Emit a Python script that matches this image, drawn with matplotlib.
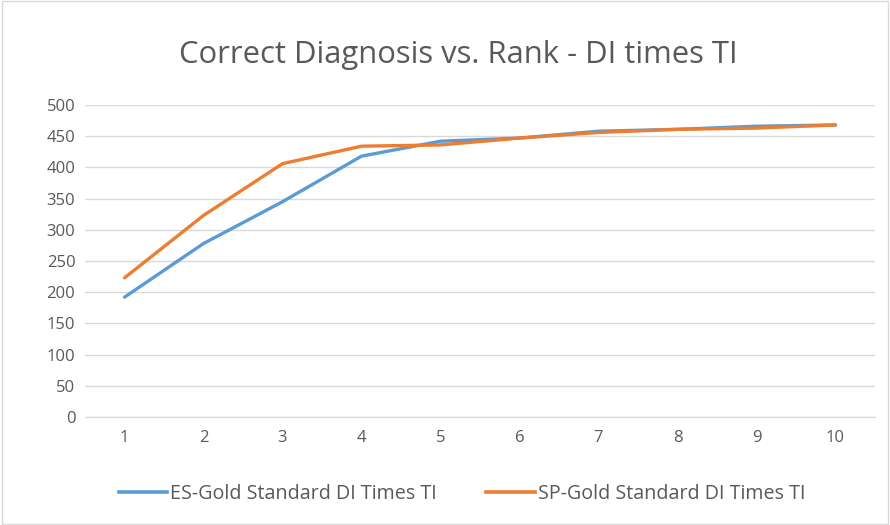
import matplotlib
matplotlib.use("Agg")
import matplotlib.pyplot as plt
from matplotlib.lines import Line2D
from matplotlib.patches import Rectangle

ranks = [1, 2, 3, 4, 5, 6, 7, 8, 9, 10]
es_values = [192, 278, 345, 418, 442, 447, 458, 461, 466, 468]
sp_values = [223, 323, 406, 434, 436, 447, 456, 461, 463, 468]
yticks = [0, 50, 100, 150, 200, 250, 300, 350, 400, 450, 500]
title = "Correct Diagnosis vs. Rank - DI times TI"
labels = ["ES-Gold Standard DI Times TI", "SP-Gold Standard DI Times TI"]

plt.rcParams['font.family'] = ['Open Sans', 'DejaVu Sans']
txt = '#595959'

fig = plt.figure(figsize=(8.9, 5.25), dpi=100)
fig.patches.append(Rectangle((0.002, 0.002), 0.996, 0.996, transform=fig.transFigure,
                             fill=False, edgecolor='#D9D9D9', linewidth=1))
ax = fig.add_axes([85/890, 1-417/525, 790/890, 312/525])

ax.plot(ranks, es_values, color='#5B9BD5', linewidth=2.4, solid_capstyle='round', zorder=3)
ax.plot(ranks, sp_values, color='#ED7D31', linewidth=2.4, solid_capstyle='round', zorder=3)

ax.set_xlim(0.5, 10.5)
ax.set_ylim(0, 500)
ax.set_yticks(yticks)
ax.set_xticks(ranks)
ax.grid(axis='y', color='#D9D9D9', linewidth=1)
ax.set_axisbelow(True)
for s in ['top', 'right', 'left']:
    ax.spines[s].set_visible(False)
ax.spines['bottom'].set_color('#D9D9D9')
ax.tick_params(axis='both', length=0, labelsize=12, colors=txt)
ax.tick_params(axis='y', pad=7)
ax.tick_params(axis='x', pad=9)

fig.text(458/890, 1-55/525, title, ha='center', va='center', fontsize=22.3, color=txt)

handles = [Line2D([], [], color='#5B9BD5', linewidth=2.6),
           Line2D([], [], color='#ED7D31', linewidth=2.6)]
fig.legend(handles, labels, loc='center', bbox_to_anchor=(462/890, 1-494/525), ncol=2,
           frameon=False, fontsize=14.2, labelcolor=txt, handlelength=2.45,
           handletextpad=0.15, columnspacing=2.5)

fig.savefig("out.png", dpi=100, facecolor='white')
